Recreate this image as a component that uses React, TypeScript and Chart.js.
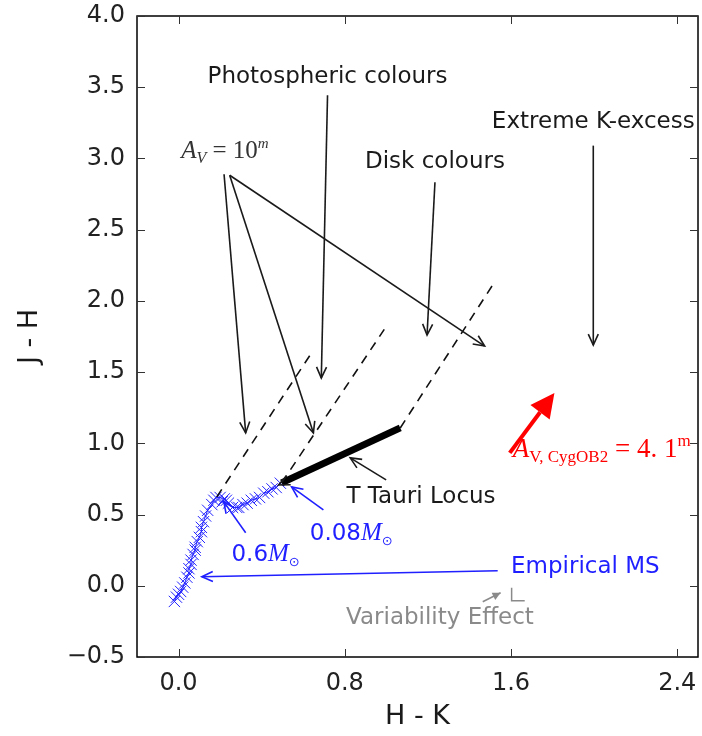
import React, { useEffect, useRef } from 'react';
import { Chart, registerables } from 'chart.js';

Chart.register(...registerables);

// ---- axis ticks ----
const xTicks = [0, 0.8, 1.6, 2.4];
const yTicks = [-0.5, 0, 0.5, 1, 1.5, 2, 2.5, 3, 3.5, 4];

// ---- empirical main sequence (H-K, J-H) ----
const msHK = [-0.02, -0.01, 0.0, 0.01, 0.02, 0.03, 0.04, 0.05, 0.05, 0.06, 0.06, 0.07, 0.08, 0.08, 0.09, 0.1, 0.11, 0.11, 0.12, 0.13, 0.14, 0.16, 0.17, 0.18, 0.2, 0.22, 0.23, 0.21, 0.24, 0.26, 0.28, 0.29, 0.31, 0.33, 0.35, 0.37, 0.39, 0.41, 0.43, 0.45, 0.47, 0.49];
const msJH = [-0.11, -0.08, -0.06, -0.04, -0.01, 0.02, 0.06, 0.09, 0.12, 0.15, 0.18, 0.22, 0.25, 0.27, 0.31, 0.34, 0.38, 0.41, 0.45, 0.49, 0.53, 0.57, 0.6, 0.62, 0.62, 0.61, 0.6, 0.59, 0.58, 0.55, 0.55, 0.55, 0.57, 0.58, 0.6, 0.61, 0.62, 0.65, 0.66, 0.68, 0.69, 0.72];

// ---- T Tauri locus ----
const ttHK = [0.496, 1.067];
const ttJH = [0.722, 1.108];

// ---- reddening band lines ----
const red1HK = [0.184, 0.649];
const red1JH = [0.624, 1.655];
const red2HK = [0.496, 0.99];
const red2JH = [0.722, 1.8];
const red3HK = [1.067, 1.527];
const red3JH = [1.108, 2.146];

// ---- annotation labels (centre in data coords) ----
const labelText = ['Photospheric colours', 'Disk colours', 'Extreme K-excess', 'T Tauri Locus', 'Empirical MS', 'Variability Effect'];
const labelHK = [0.717, 1.234, 1.996, 1.167, 1.958, 1.258];
const labelJH = [3.569, 2.973, 3.254, 0.624, 0.133, -0.224];
const labelKind = ['black', 'black', 'black', 'black', 'blue', 'gray'];

// ---- annotation arrows ----
const arrFromHK = [0.717, 1.234, 1.996, 0.219, 0.246, 0.246, 0.999, 0.697, 0.323, 1.536];
const arrFromJH = [3.443, 2.833, 3.09, 2.889, 2.882, 2.882, 0.743, 0.533, 0.372, 0.105];
const arrToHK = [0.687, 1.196, 1.996, 0.323, 0.649, 1.473, 0.826, 0.544, 0.218, 0.112];
const arrToJH = [1.459, 1.76, 1.69, 1.073, 1.073, 1.683, 0.898, 0.694, 0.589, 0.063];
const arrKind = ['black', 'black', 'black', 'black', 'black', 'black', 'black', 'blue', 'blue', 'blue'];

// reddening vector A_V(CygOB2)
const redArrowHK = [1.594, 1.809];
const redArrowJH = [0.933, 1.353];
// variability arrow and marker
const varArrowHK = [1.464, 1.55];
const varArrowJH = [-0.112, -0.049];
const varMarkHK = [1.603, 1.603, 1.666];
const varMarkJH = [-0.014, -0.105, -0.105];

// math label anchors
const avLabelHK = 0.223;
const avLabelJH = 3.058;
const cygLabelHK = 1.608;
const cygLabelJH = 0.968;
const m008HK = 0.831;
const m008JH = 0.379;
const m06HK = 0.419;
const m06JH = 0.231;

const COLORS: Record<string, string> = { black: '#1a1a1a', blue: '#1f1fff', gray: '#8a8a8a', red: '#ff0000' };
const SANS = '"DejaVu Sans", sans-serif';
const SERIF = '"Liberation Serif", "DejaVu Serif", serif';

type Part = { t: string; font: string; dy?: number };

function drawParts(ctx: CanvasRenderingContext2D, parts: Part[], x: number, y: number, align: 'left' | 'center') {
  let w = 0;
  for (const p of parts) {
    ctx.font = p.font;
    w += ctx.measureText(p.t).width;
  }
  let cx = align === 'center' ? x - w / 2 : x;
  ctx.textAlign = 'left';
  ctx.textBaseline = 'alphabetic';
  for (const p of parts) {
    ctx.font = p.font;
    ctx.fillText(p.t, cx, y + (p.dy || 0));
    cx += ctx.measureText(p.t).width;
  }
}

function arrowHead(ctx: CanvasRenderingContext2D, x1: number, y1: number, x2: number, y2: number, len: number, half: number, filled: boolean) {
  const a = Math.atan2(y2 - y1, x2 - x1);
  const bx = x2 - len * Math.cos(a);
  const by = y2 - len * Math.sin(a);
  const px = -Math.sin(a) * half;
  const py = Math.cos(a) * half;
  ctx.beginPath();
  ctx.moveTo(bx + px, by + py);
  ctx.lineTo(x2, y2);
  ctx.lineTo(bx - px, by - py);
  if (filled) {
    ctx.closePath();
    ctx.fill();
  } else {
    ctx.stroke();
  }
}

const overlayPlugin = {
  id: 'overlay',
  afterDatasetsDraw(chart: any) {
    const ctx: CanvasRenderingContext2D = chart.ctx;
    const xs = chart.scales.x;
    const ys = chart.scales.y;
    const X = (v: number) => xs.getPixelForValue(v);
    const Y = (v: number) => ys.getPixelForValue(v);
    const { left, right, top, bottom } = chart.chartArea;
    ctx.save();

    // frame + inward ticks
    ctx.strokeStyle = '#000';
    ctx.lineWidth = 1.5;
    ctx.strokeRect(left, top, right - left, bottom - top);
    ctx.lineWidth = 1;
    ctx.strokeStyle = '#333';
    const tl = 8;
    for (const v of xTicks) {
      const px = Math.round(X(v)) + 0.5;
      ctx.beginPath();
      ctx.moveTo(px, bottom); ctx.lineTo(px, bottom - tl);
      ctx.moveTo(px, top); ctx.lineTo(px, top + tl);
      ctx.stroke();
    }
    for (const v of yTicks) {
      const py = Math.round(Y(v)) + 0.5;
      ctx.beginPath();
      ctx.moveTo(left, py); ctx.lineTo(left + tl, py);
      ctx.moveTo(right, py); ctx.lineTo(right - tl, py);
      ctx.stroke();
    }

    // annotation arrows
    for (let i = 0; i < arrFromHK.length; i++) {
      const c = COLORS[arrKind[i]];
      const x1 = X(arrFromHK[i]), y1 = Y(arrFromJH[i]);
      const x2 = X(arrToHK[i]), y2 = Y(arrToJH[i]);
      ctx.strokeStyle = c;
      ctx.lineWidth = 1.6;
      ctx.beginPath();
      ctx.moveTo(x1, y1); ctx.lineTo(x2, y2);
      ctx.stroke();
      arrowHead(ctx, x1, y1, x2, y2, 11, 5, false);
    }

    // T Tauri locus left-end head
    ctx.strokeStyle = COLORS.black;
    ctx.lineWidth = 1.6;
    arrowHead(ctx, X(ttHK[1]), Y(ttJH[1]), X(ttHK[0]) - 3, Y(ttJH[0]) + 2, 11, 5, false);

    // variability arrow + marker
    ctx.strokeStyle = COLORS.gray;
    ctx.fillStyle = COLORS.gray;
    ctx.lineWidth = 1.5;
    {
      const x1 = X(varArrowHK[0]), y1 = Y(varArrowJH[0]);
      const x2 = X(varArrowHK[1]), y2 = Y(varArrowJH[1]);
      ctx.beginPath(); ctx.moveTo(x1, y1); ctx.lineTo(x2, y2); ctx.stroke();
      arrowHead(ctx, x1, y1, x2, y2, 8, 4, true);
      ctx.beginPath();
      for (let i = 0; i < varMarkHK.length; i++) {
        const px = X(varMarkHK[i]), py = Y(varMarkJH[i]);
        if (i === 0) ctx.moveTo(px, py); else ctx.lineTo(px, py);
      }
      ctx.stroke();
    }

    // red reddening arrow
    {
      const x1 = X(redArrowHK[0]), y1 = Y(redArrowJH[0]);
      const x2 = X(redArrowHK[1]), y2 = Y(redArrowJH[1]);
      const a = Math.atan2(y2 - y1, x2 - x1);
      const hl = 24;
      ctx.strokeStyle = COLORS.red;
      ctx.fillStyle = COLORS.red;
      ctx.lineWidth = 4;
      ctx.beginPath();
      ctx.moveTo(x1, y1);
      ctx.lineTo(x2 - hl * Math.cos(a), y2 - hl * Math.sin(a));
      ctx.stroke();
      arrowHead(ctx, x1, y1, x2, y2, hl, 12, true);
    }

    // plain labels
    ctx.textAlign = 'center';
    ctx.textBaseline = 'middle';
    ctx.font = `23px ${SANS}`;
    for (let i = 0; i < labelText.length; i++) {
      ctx.fillStyle = COLORS[labelKind[i]];
      ctx.fillText(labelText[i], X(labelHK[i]), Y(labelJH[i]));
    }

    // A_V = 10^m
    ctx.fillStyle = '#333';
    drawParts(ctx, [
      { t: 'A', font: `italic 25px ${SERIF}` },
      { t: 'V', font: `italic 16px ${SERIF}`, dy: 5 },
      { t: ' = ', font: `25px ${SERIF}` },
      { t: '10', font: `25px ${SERIF}` },
      { t: 'm', font: `italic 15px ${SERIF}`, dy: -10 },
    ], X(avLabelHK), Y(avLabelJH) + 8, 'center');

    // A_V,CygOB2 = 4.1^m
    ctx.fillStyle = COLORS.red;
    drawParts(ctx, [
      { t: 'A', font: `italic 27px ${SERIF}` },
      { t: 'V, CygOB2', font: `17px ${SERIF}`, dy: 5 },
      { t: ' = 4. 1', font: `27px ${SERIF}` },
      { t: 'm', font: `17px ${SERIF}`, dy: -11 },
    ], X(cygLabelHK), Y(cygLabelJH) + 9, 'left');

    // mass labels
    ctx.fillStyle = COLORS.blue;
    drawParts(ctx, [
      { t: '0.08', font: `23px ${SANS}` },
      { t: 'M', font: `italic 25px ${SERIF}` },
      { t: '\u2299', font: `13px ${SANS}`, dy: 5 },
    ], X(m008HK), Y(m008JH) + 8, 'center');
    drawParts(ctx, [
      { t: '0.6', font: `23px ${SANS}` },
      { t: 'M', font: `italic 25px ${SERIF}` },
      { t: '\u2299', font: `13px ${SANS}`, dy: 5 },
    ], X(m06HK), Y(m06JH) + 8, 'center');

    // axis titles
    ctx.fillStyle = '#1a1a1a';
    ctx.font = `27px ${SANS}`;
    ctx.textAlign = 'center';
    ctx.textBaseline = 'middle';
    ctx.fillText('H - K', (left + right) / 2, 717);
    ctx.save();
    ctx.translate(30, (top + bottom) / 2);
    ctx.rotate(-Math.PI / 2);
    ctx.fillText('J - H', 0, 0);
    ctx.restore();

    ctx.restore();
  },
};

const fmt = (v: number) => {
  const s = Number(v).toFixed(1);
  return s.startsWith('-') ? '\u2212' + s.slice(1) : s;
};

const zeroPad = (s: any) => {
  s.paddingTop = 0;
  s.paddingBottom = 0;
  s.paddingLeft = 0;
  s.paddingRight = 0;
};

export default function App() {
  const ref = useRef<HTMLCanvasElement | null>(null);
  useEffect(() => {
    document.body.style.margin = '0';
    const canvas = ref.current;
    if (!canvas) return;
    const pts = (xs: number[], ys: number[]) => xs.map((x, i) => ({ x, y: ys[i] }));
    const dashed = (xs: number[], ys: number[]) => ({
      data: pts(xs, ys),
      showLine: true,
      borderColor: '#111',
      borderWidth: 1.6,
      borderDash: [9, 7],
      pointRadius: 0,
      fill: false,
    });
    const chart = new Chart(canvas, {
      type: 'scatter',
      data: {
        datasets: [
          dashed(red1HK, red1JH),
          dashed(red2HK, red2JH),
          dashed(red3HK, red3JH),
          {
            data: pts(ttHK, ttJH),
            showLine: true,
            borderColor: '#000',
            borderWidth: 7,
            pointRadius: 0,
            fill: false,
          },
          {
            data: pts(msHK, msJH),
            showLine: true,
            borderColor: '#2222ff',
            borderWidth: 1,
            pointStyle: 'crossRot',
            pointRadius: 8,
            pointBorderWidth: 1,
            pointBorderColor: '#2222ff',
            pointBackgroundColor: '#2222ff',
            fill: false,
          },
        ] as any,
      },
      options: {
        animation: false,
        responsive: false,
        maintainAspectRatio: false,
        events: [],
        layout: { autoPadding: false, padding: { top: 16, right: 4, left: 0, bottom: 0 } },
        plugins: { legend: { display: false }, tooltip: { enabled: false }, title: { display: false } },
        scales: {
          x: {
            type: 'linear',
            min: -0.2,
            max: 2.5,
            afterBuildTicks: (s: any) => { s.ticks = xTicks.map((v) => ({ value: v })); },
            afterFit: (s: any) => { s.height = 79; zeroPad(s); },
            grid: { display: false, drawTicks: false },
            border: { display: false },
            ticks: {
              autoSkip: false,
              maxRotation: 0,
              padding: 12,
              color: '#222',
              font: { family: SANS, size: 24 },
              callback: (v: any) => fmt(v),
            },
          },
          y: {
            type: 'linear',
            min: -0.5,
            max: 4,
            afterBuildTicks: (s: any) => { s.ticks = yTicks.map((v) => ({ value: v })); },
            afterFit: (s: any) => { s.width = 137; zeroPad(s); },
            grid: { display: false, drawTicks: false },
            border: { display: false },
            ticks: {
              autoSkip: false,
              padding: 12,
              color: '#222',
              font: { family: SANS, size: 24 },
              callback: (v: any) => fmt(v),
            },
          },
        },
      } as any,
      plugins: [overlayPlugin],
    });
    return () => chart.destroy();
  }, []);
  return (
    <div style={{ width: 702, height: 736 }}>
      <canvas ref={ref} width={702} height={736} style={{ display: 'block', width: 702, height: 736 }} />
    </div>
  );
}
